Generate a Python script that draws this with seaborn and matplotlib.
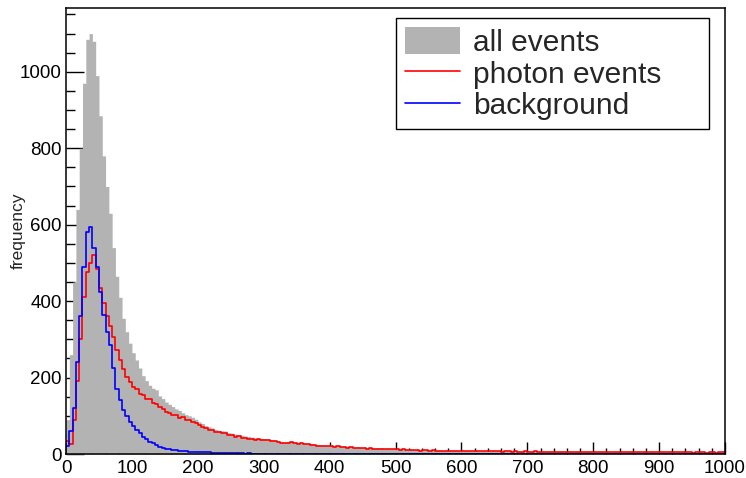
import numpy as np
import pandas as pd
import matplotlib
matplotlib.use("Agg")
import matplotlib.pyplot as plt
from matplotlib.patches import Patch
from matplotlib.lines import Line2D
from matplotlib.ticker import MultipleLocator
import seaborn as sns

# histogram: 200 bins of width 5 between 0 and 1000
bin_width = 5
x_range = (0, 1000)

all_counts = [
    90, 260, 450, 640, 800, 970, 1085, 1100, 1080, 990, 885, 780, 700, 630, 540, 465, 410, 355, 320, 290,
    265, 246, 225, 205, 192, 180, 172, 168, 152, 145, 136, 130, 124, 118, 114, 108, 103, 100, 96, 91,
    84, 80, 74, 71, 68, 64, 62, 61, 60, 56, 54, 52, 50, 49, 47, 46, 44, 42, 41, 41,
    40, 39, 38, 36, 34, 32, 31, 33, 34, 32, 30, 30, 29, 27, 26, 25, 24, 24, 23, 22,
    23, 21, 22, 20, 21, 19, 20, 18, 19, 17, 18, 16, 17, 15, 16, 15, 14, 15, 14, 14,
    13, 12, 13, 11, 12, 11, 12, 10, 11, 11, 10, 11, 10, 10, 9, 10, 9, 10, 9, 9,
    10, 9, 9, 8, 9, 8, 9, 8, 8, 9, 8, 8, 7, 8, 8, 7, 8, 7, 7, 8,
    7, 7, 8, 7, 7, 6, 7, 7, 6, 7, 7, 6, 7, 6, 6, 7, 6, 6, 7, 6,
    6, 6, 7, 6, 6, 5, 6, 6, 6, 5, 6, 6, 5, 6, 5, 6, 5, 6, 5, 5,
    6, 5, 5, 6, 5, 5, 5, 6, 5, 5, 4, 5, 5, 5, 4, 5, 5, 4, 5, 5,
]

photon_counts = [
    35, 25, 90, 190, 300, 410, 475, 500, 520, 485, 435, 395, 360, 335, 305, 272, 245, 222, 202, 188,
    176, 170, 158, 155, 145, 143, 133, 131, 122, 119, 110, 108, 102, 101, 95, 96, 89, 90, 84, 81,
    77, 71, 68, 63, 63, 57, 57, 54, 55, 50, 50, 45, 46, 43, 43, 40, 40, 37, 38, 36,
    37, 36, 35, 33, 31, 29, 28, 30, 32, 29, 27, 28, 26, 25, 23, 23, 22, 21, 21, 20,
    21, 19, 20, 18, 19, 17, 18, 16, 17, 15, 16, 14, 15, 13, 14, 13, 12, 13, 12, 12,
    12, 11, 12, 10, 11, 10, 11, 9, 10, 10, 9, 10, 9, 9, 8, 9, 8, 9, 8, 8,
    9, 8, 8, 7, 8, 7, 8, 7, 7, 8, 7, 7, 6, 7, 7, 6, 7, 6, 6, 7,
    6, 6, 7, 6, 6, 5, 6, 6, 5, 6, 6, 5, 6, 5, 5, 6, 5, 5, 6, 5,
    5, 5, 6, 5, 5, 4, 5, 5, 5, 4, 5, 5, 4, 5, 4, 5, 4, 5, 4, 4,
    5, 4, 4, 5, 4, 4, 4, 5, 4, 4, 3, 4, 4, 4, 3, 4, 4, 3, 4, 4,
]

background_counts = [
    20, 60, 120, 240, 360, 490, 580, 595, 540, 490, 425, 365, 320, 285, 225, 170, 140, 115, 100, 83,
    72, 62, 55, 45, 38, 32, 28, 23, 19, 17, 14, 13, 11, 10, 9, 8, 7, 6, 6, 5,
    5, 4, 4, 4, 3, 3, 3, 3, 2, 2, 2, 2, 2, 2, 1, 2, 1, 1, 1, 1,
    1, 1, 1, 1, 1, 1, 1, 1, 0, 1, 1, 0, 1, 0, 1, 0, 0, 1, 0, 0,
] + [0] * 120

df = pd.DataFrame({
    "value": np.arange(x_range[0], x_range[1], bin_width) + bin_width / 2,
    "all": all_counts,
    "photon": photon_counts,
    "background": background_counts,
})

sns.set_style("ticks")
plt.rcParams["font.family"] = ["Liberation Sans", "DejaVu Sans"]

fig = plt.figure(figsize=(7.46, 4.78), dpi=100)
ax = fig.add_axes([0.0885, 0.0502, 0.8834, 0.9331])

gray = "#b3b3b3"
hist_kw = dict(data=df, x="value", binwidth=bin_width, binrange=x_range,
               element="step", ax=ax)
sns.histplot(weights="all", fill=True, color=gray, alpha=1, linewidth=0,
             snap=False, **hist_kw)
sns.histplot(weights="photon", fill=False, color="#ff0000", linewidth=1.2, **hist_kw)
sns.histplot(weights="background", fill=False, color="#0000ff", linewidth=1.2, **hist_kw)

ax.set_xlim(0, 1000)
ax.set_ylim(0, 1167)
ax.set_xlabel("")
ax.set_ylabel("frequency", fontsize=12.5)
ax.yaxis.set_label_coords(-0.061, 0.5)

ax.xaxis.set_major_locator(MultipleLocator(100))
ax.xaxis.set_minor_locator(MultipleLocator(20))
ax.yaxis.set_major_locator(MultipleLocator(200))
ax.yaxis.set_minor_locator(MultipleLocator(50))
ax.tick_params(axis="both", which="both", direction="in", colors="black", labelsize=13.5)
ax.tick_params(axis="x", which="major", length=8.5, width=1, pad=4)
ax.tick_params(axis="x", which="minor", length=4, width=1)
ax.tick_params(axis="y", which="major", length=13, width=1, pad=3)
ax.tick_params(axis="y", which="minor", length=6.5, width=1)
for side in ["left", "bottom", "right", "top"]:
    ax.spines[side].set_visible(True)
    ax.spines[side].set_color("black")
    ax.spines[side].set_linewidth(1.1)

handles = [
    Patch(facecolor=gray, edgecolor="none"),
    Line2D([0], [0], color="#ff0000", linewidth=1.2),
    Line2D([0], [0], color="#0000ff", linewidth=1.2),
]
labels = ["all events", "photon events", "background"]
leg = ax.legend(handles, labels, loc="upper left",
                bbox_to_anchor=(0.5008, 0.713, 0.4749, 0.2646),
                mode="expand", borderaxespad=0, fontsize=21.5, handlelength=1.85,
                handleheight=1.0, handletextpad=0.42, labelspacing=0.08,
                borderpad=0.3, fancybox=False, framealpha=1)
leg.get_frame().set_edgecolor("black")
leg.get_frame().set_linewidth(1.0)

fig.savefig("out.png", dpi=100)
